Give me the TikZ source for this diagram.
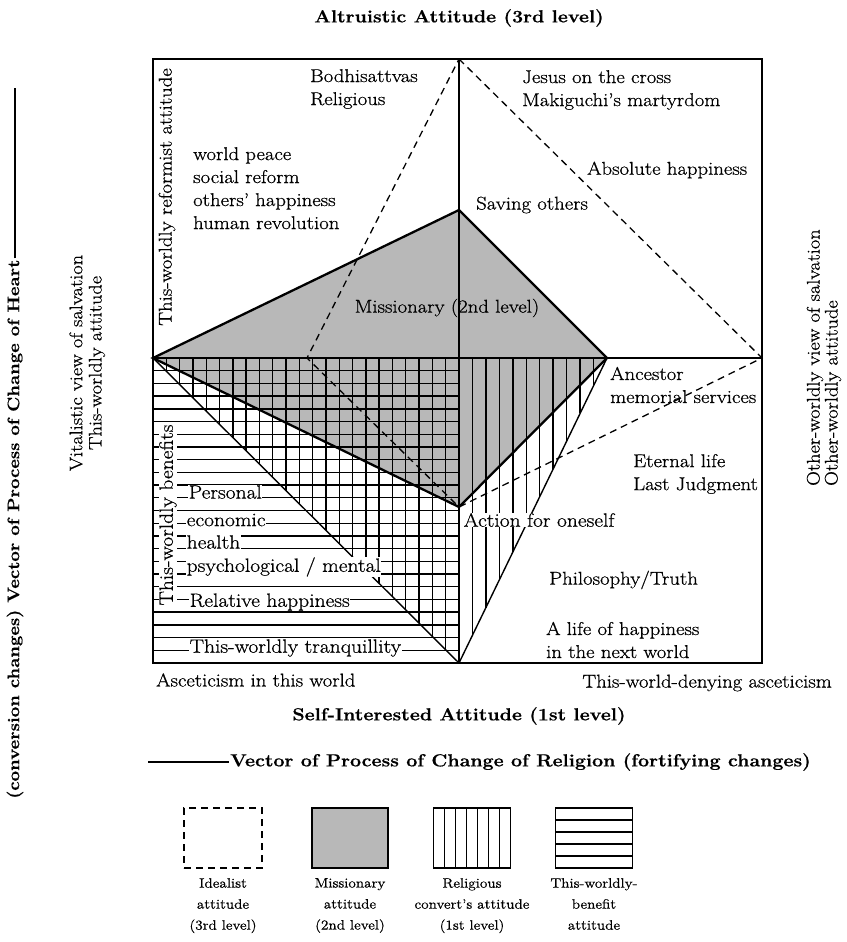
\documentclass[tikz,border=0pt]{standalone}
\usepackage{fontspec}
\setmainfont{Latin Modern Roman}[FakeStretch=1.12, FakeBold=0.7]
\definecolor{mgray}{RGB}{184,184,184}
\tikzset{
  frame/.style={line width=1.7pt, line cap=rect},
  hatch/.style={line width=1.4pt},
  kiteline/.style={line width=2.3pt, line join=miter},
  ideal/.style={line width=1.3pt, dash pattern=on 7pt off 5pt},
  lab/.style={font=\fontsize{18.5}{23}\selectfont, inner sep=1pt, align=left},
  wlab/.style={font=\fontsize{19.2}{23}\selectfont, fill=white, inner sep=0.5pt},
  ttl/.style={font=\fontsize{17.5}{22}\selectfont\bfseries, inner sep=1pt},
  side/.style={font=\fontsize{18.2}{22}\selectfont, inner sep=1pt, rotate=90},
  leg/.style={font=\fontsize{13.6}{21}\selectfont, align=center, inner sep=0pt},
}
\begin{document}
\begin{tikzpicture}[x=1pt,y=-1pt]
\useasboundingbox (0,0) rectangle (846,942);
% key points
\coordinate (TL) at (153,59);
\coordinate (TR) at (762,59);
\coordinate (BL) at (153,663);
\coordinate (BR) at (762,663);
\coordinate (TC) at (459,59);
\coordinate (BC) at (459,663);
\coordinate (ML) at (153,358);
\coordinate (MR) at (762,358);
\coordinate (C)  at (459,358);
\coordinate (K1) at (459,210);
\coordinate (K2) at (607,358);
\coordinate (K3) at (459,507);
\coordinate (D4) at (307,358);
% missionary kite fill
\fill[mgray] (ML) -- (K1) -- (K2) -- (K3) -- cycle;
% horizontal hatching (this-worldly benefit) in lower-left quadrant
\foreach \k in {1,...,23}{
  \pgfmathsetmacro\yy{358+\k*305/24}
  \draw[hatch] (153,\yy) -- (459,\yy);
}
% vertical hatching (religious convert) in triangle ML-K2-BC
\foreach \j in {1,...,22}{
  \pgfmathsetmacro\xx{153+\j*306/23}
  \pgfmathsetmacro\yy{358+(\xx-153)/306*305}
  \draw[hatch] (\xx,358) -- (\xx,\yy);
}
\foreach \j in {1,...,10}{
  \pgfmathsetmacro\xx{459+\j*148/11}
  \pgfmathsetmacro\yy{358+(607-\xx)/148*305}
  \draw[hatch] (\xx,358) -- (\xx,\yy);
}
\draw[hatch] (ML) -- (BC);
\draw[hatch] (K2) -- (BC);
% labels on hatching (white background)
\node[wlab, rotate=90] (twb) at (168,515) {This-worldly benefits};
\node[wlab, anchor=west] (per) at (188,492) {Personal};
\node[wlab, anchor=west] (eco) at (186,520) {economic};
\node[wlab, anchor=west] (hea) at (186,542) {health};
\node[wlab, anchor=west] (psy) at (186,567) {psychological / mental};
\node[wlab, anchor=west] (rel) at (189,602) {Relative happiness};
\node[wlab, anchor=west] (tra) at (189,648) {This-worldly tranquillity};
\node[wlab, anchor=west] (act) at (463,520) {Action for oneself};
% kite outline
\draw[kiteline] (ML) -- (K1) -- (K2) -- (K3) -- cycle;
\draw[kiteline] (C) -- (K3);
% idealist dashed quadrilateral
\draw[ideal] (TC) -- (MR) -- (K3) -- (D4) -- cycle;
% frame and axes
\draw[frame] (TL) rectangle (BR);
\draw[frame] (TC) -- (BC);
\draw[frame] (ML) -- (MR);
% texts in upper half
\node[ttl] (alt) at (459,18) {Altruistic Attitude (3rd level)};
\node[lab, anchor=west] (bod) at (309,89) {Bodhisattvas\\Religious};
\node[lab, anchor=north west] (wpe) at (192,146) {world peace\\social reform\\others' happiness\\human revolution};
\node[lab, anchor=west] (jes) at (521,90) {Jesus on the cross\\Makiguchi's martyrdom};
\node[lab, anchor=west] (abs) at (586,170) {Absolute happiness};
\node[lab, anchor=west] (sav) at (475,205) {Saving others};
\node[lab] (mis) at (447,308) {Missionary (2nd level)};
\node[lab, rotate=90] (ref) at (167,197) {This-worldly reformist attitude};
% texts in lower right
\node[lab, anchor=west] (anc) at (609,385) {Ancestor\\memorial services};
\node[lab, anchor=west] (ete) at (632,474) {Eternal life\\Last Judgment};
\node[lab, anchor=west] (phi) at (548,580) {Philosophy/Truth};
\node[lab, anchor=west] (lif) at (545,640) {A life of happiness\\in the next world};
% axis captions
\node[lab, anchor=west] (asc) at (155,680) {Asceticism in this world};
\node[lab, anchor=east] (den) at (833,683) {This-world-denying asceticism};
\node[ttl] (sel) at (459,716) {Self-Interested Attitude (1st level)};
\node[ttl, anchor=west] (vrel) at (229,762) {Vector of Process of Change of Religion (fortifying changes)};
\coordinate (vrelend) at (148,762);
\draw[line width=1.2pt] (vrelend) -- (vrel.west);
\node[ttl, font=\fontsize{16.6}{20}\selectfont\bfseries, rotate=90, anchor=west] (vhea) at (15,800) {(conversion changes) Vector of Process of Change of Heart};
\coordinate (vheaend) at (15,88);
\draw[line width=1.2pt] (vhea.east) -- (vheaend);
\node[side] (vit) at (76,363) {Vitalistic view of salvation};
\node[side] (twa) at (97,363) {This-worldly attitude};
\node[side, anchor=west] (ows) at (815,487) {Other-worldly view of salvation};
\node[side, anchor=west] (owa) at (833,487) {Other-worldly attitude};
% legend
\node[draw, ideal, minimum width=78pt, minimum height=60pt, inner sep=0pt] (lg1) at (223,838) {};
\node[draw, line width=2pt, fill=mgray, minimum width=76pt, minimum height=60pt, inner sep=0pt] (lg2) at (350,838) {};
\node[draw, line width=1.4pt, minimum width=77pt, minimum height=60pt, inner sep=0pt] (lg3) at (472,838) {};
\node[draw, line width=1.4pt, minimum width=77pt, minimum height=60pt, inner sep=0pt] (lg4) at (594,838) {};
\foreach \i in {1,...,6}{
  \pgfmathsetmacro\xx{433.5+\i*77/7}
  \draw[hatch] (\xx,808) -- (\xx,868);
}
\foreach \i in {1,...,4}{
  \pgfmathsetmacro\yy{808+\i*60/5}
  \draw[hatch] (555.5,\yy) -- (632.5,\yy);
}
\node[leg, anchor=north] (lt1) at (223,878) {Idealist\\attitude\\(3rd level)};
\node[leg, anchor=north] (lt2) at (350,878) {Missionary\\attitude\\(2nd level)};
\node[leg, anchor=north] (lt3) at (472,878) {Religious\\convert's attitude\\(1st level)};
\node[leg, anchor=north] (lt4) at (594,878) {This-worldly-\\benefit\\attitude};
\end{tikzpicture}
\end{document}
